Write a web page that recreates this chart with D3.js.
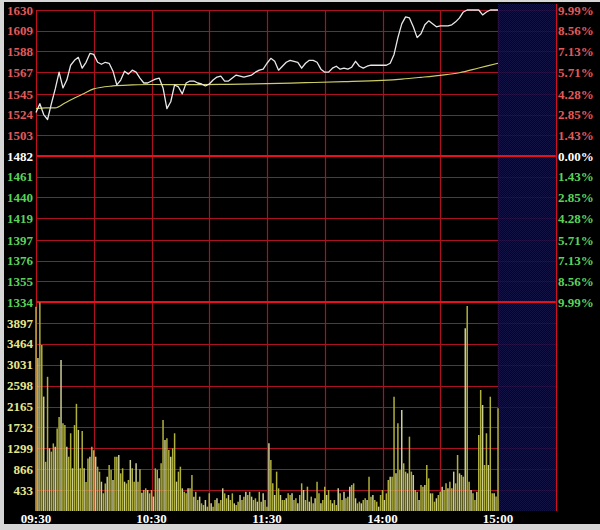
<!DOCTYPE html>
<html>
<head>
<meta charset="utf-8">
<script src="https://cdn.jsdelivr.net/npm/d3@7/dist/d3.min.js"></script>
<style>
html,body{margin:0;padding:0;background:#d6d6d6;}
svg{display:block;}
text{font-family:"Liberation Serif","DejaVu Serif",serif;font-weight:bold;font-size:13px;}
</style>
</head>
<body>
<svg id="chart" width="600" height="530"></svg>
<script>
// ---------------- data ----------------
const priceTicks = [1630,1609,1588,1567,1545,1524,1503,1482,1461,1440,1419,1397,1376,1355,1334];
const pctTicks = ["9.99%","8.56%","7.13%","5.71%","4.28%","2.85%","1.43%","0.00%","1.43%","2.85%","4.28%","5.71%","7.13%","8.56%","9.99%"];
const volTicks = [3897,3464,3031,2598,2165,1732,1299,866,433];
const timeTicks = [0,60,120,180,240];
const timeLabels = ["09:30","10:30","11:30","14:00","15:00"];
const prevClose = 1482;

// price every 2 minutes, t = 0..240
const priceMinutes = d3.range(0,241,2);
const price = [1526,1535,1524,1519,1535,1550,1567,1551,1559,1574,
  1579,1582,1571,1577,1586,1585,1577,1575,1577,1576,
  1568,1554,1559,1568,1565,1569,1567,1561,1556,1556,
  1558,1560,1561,1551,1530,1537,1554,1552,1545,1556,
  1558,1558,1556,1555,1553,1555,1559,1562,1563,1558,
  1558,1561,1564,1563,1562,1563,1564,1567,1569,1570,
  1576,1581,1578,1569,1573,1577,1579,1578,1577,1571,
  1576,1579,1579,1577,1570,1567,1567,1571,1573,1570,
  1571,1570,1572,1578,1573,1571,1573,1574,1574,1574,
  1574,1574,1576,1585,1602,1616,1623,1622,1613,1602,
  1606,1615,1619,1616,1613,1614,1614,1614,1615,1618,
  1622,1628,1630,1630,1630,1630,1625,1628,1630,1630,1630];

// average price line
const avgMinutes = [0,5,10,15,20,25,30,40,50,60,80,100,120,140,160,180,190,200,210,220,230,240];
const avgPrice = [1530,1530.7,1530.7,1535.7,1540.8,1545.4,1550,1553,1554,1554.5,1554.3,1554.7,1555.3,1556.3,1557.3,1558.7,1560,1561.8,1563.8,1566.4,1571.2,1576];

// volume per minute, t = 0..240
const volume = [4230,3170,4320,3440,2370,1020,2780,1300,1230,1400,
  1330,1710,1950,3130,1820,1780,1330,1125,1610,885,
  1780,2220,1680,885,1660,885,600,1090,1125,1330,
  1260,1125,918,814,607,367,570,711,953,850,
  643,1125,1125,1160,780,885,607,570,643,1057,
  885,607,988,607,864,380,435,470,435,366,
  435,300,884,850,677,988,1885,1471,1506,1264,
  1126,1299,1610,608,815,918,470,400,366,470,
  470,746,297,400,228,297,159,124,228,90,
  366,159,90,228,263,159,228,470,366,263,
  332,228,366,159,124,193,332,228,297,400,
  332,400,297,228,263,193,400,193,366,228,90,
  // afternoon 13:01 ..
  1403,1057,573,332,815,470,332,228,228,263,366,332,366,
  228,263,159,332, 573,435,228,504, 193,297,159,263, 608,366,159,228,
  504,332,435,228, 159,228,124,470,366, 228,400,263,297, 504,539,573,263,159,
  193,159,228,263, 228,711,297,332,228, 193,90,332,435,
  228,366,642,711,711, 2368,780,1817,850,2093,988,815,780,
  1540,815,746,435, 400,228,539,504, 539,953,677,366, 366,193,263,332,
  400,504,435,573,470, 608,470,815,573, 1160,780,746,711,
  3786,4248,608,435,366,228,400, 1575,2507,2196,953,
  1610,953,2368,366,366,300,2128];

// ---------------- drawing ----------------
const svg = d3.select("#chart");
const x = d3.scaleLinear().domain([0,270]).range([36,555.75]);
const y = d3.scaleLinear().domain([1334,1630]).range([302,10]);
const yv = d3.scaleLinear().domain([0,4330]).range([511,302]);

// background
svg.append("rect").attr("x",0).attr("y",0).attr("width",600).attr("height",530).attr("fill","#d6d6d6");
svg.append("rect").attr("x",4).attr("y",2).attr("width",596).attr("height",522).attr("fill","#000");

// pattern for post-market area
const defs = svg.append("defs");
const pat = defs.append("pattern").attr("id","dots").attr("width",2).attr("height",2).attr("patternUnits","userSpaceOnUse");
pat.append("rect").attr("width",2).attr("height",2).attr("fill","#06062e");
pat.append("rect").attr("width",1).attr("height",1).attr("fill","#14144e");
pat.append("rect").attr("x",1).attr("y",1).attr("width",1).attr("height",1).attr("fill","#14144e");

const gridColor = "#aa1222";
const g = svg.append("g");

// horizontal grid: price levels
g.selectAll(".hp").data(priceTicks).enter().append("line")
  .attr("x1",x(0)).attr("x2",x(270))
  .attr("y1",d=>Math.round(y(d))+0.5).attr("y2",d=>Math.round(y(d))+0.5)
  .attr("stroke",gridColor).attr("stroke-width",1.2);
// horizontal grid: volume levels
g.selectAll(".hv").data(volTicks).enter().append("line")
  .attr("x1",x(0)).attr("x2",x(270))
  .attr("y1",d=>Math.round(yv(d))+0.5).attr("y2",d=>Math.round(yv(d))+0.5)
  .attr("stroke",gridColor).attr("stroke-width",1.2);
// vertical grid every 30 minutes
g.selectAll(".vg").data(d3.range(0,271,30)).enter().append("line")
  .attr("x1",d=>Math.round(x(d))+0.5).attr("x2",d=>Math.round(x(d))+0.5)
  .attr("y1",y(1630)).attr("y2",yv(0))
  .attr("stroke",gridColor).attr("stroke-width",1.2);

// post-market shaded area
svg.append("rect").attr("x",x(240)).attr("y",4).attr("width",x(270)-x(240)).attr("height",yv(0)-4)
  .attr("fill","url(#dots)").attr("opacity",0.85);

// strong lines
svg.append("line").attr("x1",x(0)).attr("x2",x(270)).attr("y1",y(prevClose)).attr("y2",y(prevClose))
  .attr("stroke","#e8101c").attr("stroke-width",2);
svg.append("line").attr("x1",x(0)).attr("x2",x(270)).attr("y1",y(1334)).attr("y2",y(1334))
  .attr("stroke","#e8101c").attr("stroke-width",2);
svg.append("line").attr("x1",Math.round(x(270))+0.5).attr("x2",Math.round(x(270))+0.5).attr("y1",4).attr("y2",yv(0))
  .attr("stroke","#d0101c").attr("stroke-width",1.2);
svg.append("line").attr("x1",Math.round(x(0))+0.5).attr("x2",Math.round(x(0))+0.5).attr("y1",y(1630)).attr("y2",yv(0))
  .attr("stroke","#c0101c").attr("stroke-width",1);

// volume bars
svg.append("g").selectAll("line").data(volume).enter().append("line")
  .attr("x1",(d,i)=>x(i)).attr("x2",(d,i)=>x(i))
  .attr("y1",yv(0)).attr("y2",d=>yv(d))
  .attr("stroke",(d,i)=> i%3===1 ? "#cdcd96" : "#b0b03c")
  .attr("stroke-width",1.5);

// average line
svg.append("path")
  .datum(avgMinutes.map((t,i)=>[t,avgPrice[i]]))
  .attr("fill","none").attr("stroke","#cccc66").attr("stroke-width",1.2)
  .attr("d",d3.line().x(d=>x(d[0])).y(d=>y(d[1])).curve(d3.curveMonotoneX));

// price line
svg.append("path")
  .datum(priceMinutes.map((t,i)=>[t,price[i]]))
  .attr("fill","none").attr("stroke","#e8e8e8").attr("stroke-width",1.3)
  .attr("stroke-linejoin","round")
  .attr("d",d3.line().x(d=>x(d[0])).y(d=>y(d[1])));

// left price labels
svg.append("g").selectAll("text").data(priceTicks).enter().append("text")
  .attr("x",33).attr("y",d=>y(d)).attr("dy","0.36em").attr("text-anchor","end")
  .attr("fill",d=> d>prevClose ? "#e05a5a" : (d===prevClose ? "#ffffff" : "#5ad25a"))
  .text(d=>d);
// volume labels
svg.append("g").selectAll("text").data(volTicks).enter().append("text")
  .attr("x",33).attr("y",d=>yv(d)).attr("dy","0.36em").attr("text-anchor","end")
  .attr("fill","#e6e68c")
  .text(d=>d);
// right percent labels
svg.append("g").selectAll("text").data(priceTicks).enter().append("text")
  .attr("x",558).attr("y",d=>y(d)).attr("dy","0.36em").attr("text-anchor","start")
  .attr("fill",d=> d>prevClose ? "#e05a5a" : (d===prevClose ? "#ffffff" : "#5ad25a"))
  .text((d,i)=>pctTicks[i]);
// time labels
svg.append("g").selectAll("text").data(timeTicks).enter().append("text")
  .attr("x",d=>x(d)).attr("y",518).attr("dy","0.36em").attr("text-anchor","middle")
  .attr("fill","#ffffff")
  .text((d,i)=>timeLabels[i]);
</script>
</body>
</html>
